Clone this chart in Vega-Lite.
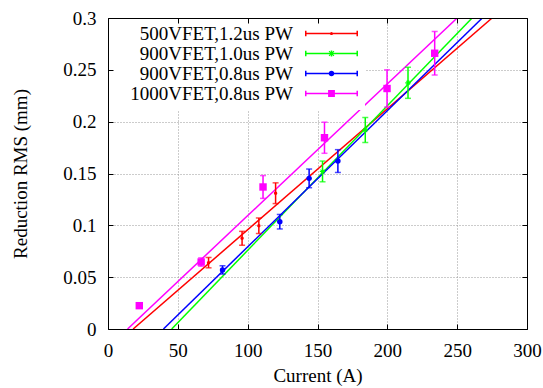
{
  "$schema": "https://vega.github.io/schema/vega-lite/v6.json",
  "width": 419,
  "height": 311,
  "autosize": "none",
  "padding": {"left": 108, "top": 18, "right": 16, "bottom": 59},
  "background": "white",
  "datasets": {
    "pts": [
      {"s": "500VFET,1.2us PW", "x": 72, "y": 0.064, "e": 0.005},
      {"s": "500VFET,1.2us PW", "x": 96, "y": 0.0875, "e": 0.0067},
      {"s": "500VFET,1.2us PW", "x": 108, "y": 0.0996, "e": 0.0075},
      {"s": "500VFET,1.2us PW", "x": 120, "y": 0.131, "e": 0.01},
      {"s": "900VFET,1.0us PW", "x": 153.6, "y": 0.152, "e": 0.01},
      {"s": "900VFET,1.0us PW", "x": 184.2, "y": 0.192, "e": 0.012},
      {"s": "900VFET,1.0us PW", "x": 214.8, "y": 0.2375, "e": 0.015},
      {"s": "900VFET,0.8us PW", "x": 82, "y": 0.057, "e": 0.004},
      {"s": "900VFET,0.8us PW", "x": 123, "y": 0.1035, "e": 0.007},
      {"s": "900VFET,0.8us PW", "x": 144, "y": 0.1453, "e": 0.009},
      {"s": "900VFET,0.8us PW", "x": 164.6, "y": 0.162, "e": 0.011},
      {"s": "1000VFET,0.8us PW", "x": 22.4, "y": 0.0225, "e": 0.002},
      {"s": "1000VFET,0.8us PW", "x": 66.7, "y": 0.0646, "e": 0.004},
      {"s": "1000VFET,0.8us PW", "x": 111, "y": 0.137, "e": 0.011},
      {"s": "1000VFET,0.8us PW", "x": 155, "y": 0.1845, "e": 0.015},
      {"s": "1000VFET,0.8us PW", "x": 199.8, "y": 0.232, "e": 0.018},
      {"s": "1000VFET,0.8us PW", "x": 233.9, "y": 0.266, "e": 0.021}
    ],
    "fits": [
      {"s": "500VFET,1.2us PW", "x": 18, "y": 0},
      {"s": "500VFET,1.2us PW", "x": 275, "y": 0.3},
      {"s": "900VFET,1.0us PW", "x": 45.6, "y": 0},
      {"s": "900VFET,1.0us PW", "x": 260.7, "y": 0.3},
      {"s": "900VFET,0.8us PW", "x": 39.7, "y": 0},
      {"s": "900VFET,0.8us PW", "x": 268, "y": 0.3},
      {"s": "1000VFET,0.8us PW", "x": 14, "y": 0},
      {"s": "1000VFET,0.8us PW", "x": 250, "y": 0.3}
    ]
  },
  "layer": [
    {
      "data": {"name": "pts"},
      "transform": [{"filter": "false"}],
      "mark": {"type": "point", "filled": true, "opacity": 1},
      "encoding": {
        "x": {"field": "x", "type": "quantitative", "scale": {"domain": [0, 300], "nice": false, "zero": false},
          "axis": {"orient": "top", "values": [0, 50, 100, 150, 200, 250, 300], "grid": false, "domain": true, "domainColor": "black", "domainWidth": 1, "ticks": true, "tickSize": -5, "tickColor": "black", "tickWidth": 1, "labels": false, "title": null, "zindex": 2}},
        "y": {"field": "y", "type": "quantitative", "scale": {"domain": [0, 0.3], "nice": false, "zero": false},
          "axis": {"orient": "right", "values": [0, 0.05, 0.1, 0.15, 0.2, 0.25, 0.3], "grid": false, "domain": true, "domainColor": "black", "domainWidth": 1, "ticks": true, "tickSize": -5, "tickColor": "black", "tickWidth": 1, "labels": false, "title": null, "zindex": 2}},
        "color": {"field": "s", "type": "nominal", "scale": {"domain": ["500VFET,1.2us PW", "900VFET,1.0us PW", "900VFET,0.8us PW", "1000VFET,0.8us PW"], "range": ["#ff0000", "#00ff00", "#0000ff", "#ff00ff"]}, "legend": {"title": null}},
        "shape": {"field": "s", "type": "nominal", "scale": {"domain": ["500VFET,1.2us PW", "900VFET,1.0us PW", "900VFET,0.8us PW", "1000VFET,0.8us PW"], "range": [
          "M-2.79,-0.08H2.79V0.08H-2.79Z M-2.79,-0.3H-2.63V0.3H-2.79Z M2.63,-0.3H2.79V0.3H2.63Z M0.17,0A0.17,0.17 0 1,1 -0.17,0A0.17,0.17 0 1,1 0.17,0Z",
          "M-2.79,-0.08H2.79V0.08H-2.79Z M-2.79,-0.3H-2.63V0.3H-2.79Z M2.63,-0.3H2.79V0.3H2.63Z M-0.08,-0.32H0.08V0.32H-0.08Z M-0.3,-0.22L-0.22,-0.3L0.3,0.22L0.22,0.3Z M0.22,-0.3L0.3,-0.22L-0.22,0.3L-0.3,0.22Z",
          "M-2.79,-0.08H2.79V0.08H-2.79Z M-2.79,-0.3H-2.63V0.3H-2.79Z M2.63,-0.3H2.79V0.3H2.63Z M0.3,0A0.3,0.3 0 1,1 -0.3,0A0.3,0.3 0 1,1 0.3,0Z",
          "M-2.79,-0.08H2.79V0.08H-2.79Z M-2.79,-0.3H-2.63V0.3H-2.79Z M2.63,-0.3H2.79V0.3H2.63Z M-0.36,-0.36H0.36V0.36H-0.36Z"
        ]}, "legend": {"title": null}}
      }
    },
    {
      "data": {"name": "pts"},
      "transform": [{"filter": "false"}],
      "mark": {"type": "point", "opacity": 0},
      "encoding": {
        "x": {"field": "x", "type": "quantitative", "scale": {"domain": [0, 300], "nice": false, "zero": false},
          "axis": {"orient": "bottom", "values": [50, 100, 150, 200, 250], "grid": true, "gridColor": "#999999", "gridDash": [1, 2], "gridWidth": 1, "domain": false, "ticks": false, "labels": false, "title": null, "zindex": 0}},
        "y": {"field": "y", "type": "quantitative", "scale": {"domain": [0, 0.3], "nice": false, "zero": false},
          "axis": {"orient": "left", "values": [0.05, 0.1, 0.15, 0.2, 0.25], "grid": true, "gridColor": "#999999", "gridDash": [1, 2], "gridWidth": 1, "domain": false, "ticks": false, "labels": false, "title": null, "zindex": 0}}
      }
    },
    {
      "data": {"name": "fits"},
      "mark": {"type": "line", "strokeWidth": 1.5, "clip": true},
      "encoding": {
        "x": {"field": "x", "type": "quantitative", "scale": {"domain": [0, 300], "nice": false, "zero": false},
          "axis": {"orient": "bottom", "values": [0, 50, 100, 150, 200, 250, 300], "format": "d", "grid": false, "domain": true, "domainColor": "black", "domainWidth": 1, "ticks": true, "tickSize": -5, "tickColor": "black", "tickWidth": 1, "labelPadding": 17, "labelFlush": false, "labelOverlap": false, "title": "Current (A)", "titlePadding": 6, "zindex": 2}},
        "y": {"field": "y", "type": "quantitative", "scale": {"domain": [0, 0.3], "nice": false, "zero": false},
          "axis": {"orient": "left", "values": [0, 0.05, 0.1, 0.15, 0.2, 0.25, 0.3], "format": ".2~f", "grid": false, "domain": true, "domainColor": "black", "domainWidth": 1, "ticks": true, "tickSize": -5, "tickColor": "black", "tickWidth": 1, "labelPadding": 17, "labelOverlap": false, "title": "Reduction RMS (mm)", "titlePadding": 32, "zindex": 2}},
        "color": {"field": "s", "type": "nominal", "scale": {"domain": ["500VFET,1.2us PW", "900VFET,1.0us PW", "900VFET,0.8us PW", "1000VFET,0.8us PW"], "range": ["#ff0000", "#00ff00", "#0000ff", "#ff00ff"]}, "legend": {"title": null}}
      }
    },
    {
      "data": {"name": "pts"},
      "mark": {"type": "errorbar", "ticks": {"size": 6, "thickness": 1.5}, "thickness": 1.5},
      "encoding": {
        "x": {"field": "x", "type": "quantitative", "scale": {"domain": [0, 300], "nice": false, "zero": false}, "axis": null},
        "y": {"field": "y", "type": "quantitative", "scale": {"domain": [0, 0.3], "nice": false, "zero": false}, "axis": null},
        "yError": {"field": "e"},
        "color": {"field": "s", "type": "nominal", "scale": {"domain": ["500VFET,1.2us PW", "900VFET,1.0us PW", "900VFET,0.8us PW", "1000VFET,0.8us PW"], "range": ["#ff0000", "#00ff00", "#0000ff", "#ff00ff"]}, "legend": {"title": null}}
      }
    },
    {
      "data": {"name": "pts"},
      "transform": [{"filter": "datum.s === '500VFET,1.2us PW'"}],
      "mark": {"type": "point", "filled": true, "opacity": 1, "shape": "circle", "size": 12},
      "encoding": {
        "x": {"field": "x", "type": "quantitative", "scale": {"domain": [0, 300], "nice": false, "zero": false}, "axis": null},
        "y": {"field": "y", "type": "quantitative", "scale": {"domain": [0, 0.3], "nice": false, "zero": false}, "axis": null},
        "color": {"field": "s", "type": "nominal", "scale": {"domain": ["500VFET,1.2us PW", "900VFET,1.0us PW", "900VFET,0.8us PW", "1000VFET,0.8us PW"], "range": ["#ff0000", "#00ff00", "#0000ff", "#ff00ff"]}, "legend": {"title": null}}
      }
    },
    {
      "data": {"name": "pts"},
      "transform": [{"filter": "datum.s === '900VFET,1.0us PW'"}],
      "mark": {"type": "point", "filled": true, "opacity": 1, "size": 100, "shape": "M-0.55,-0.12H0.55V0.12H-0.55Z M-0.12,-0.55H0.12V0.55H-0.12Z M-0.45,-0.35L-0.35,-0.45L0.45,0.35L0.35,0.45Z M0.35,-0.45L0.45,-0.35L-0.35,0.45L-0.45,0.35Z"},
      "encoding": {
        "x": {"field": "x", "type": "quantitative", "scale": {"domain": [0, 300], "nice": false, "zero": false}, "axis": null},
        "y": {"field": "y", "type": "quantitative", "scale": {"domain": [0, 0.3], "nice": false, "zero": false}, "axis": null},
        "color": {"field": "s", "type": "nominal", "scale": {"domain": ["500VFET,1.2us PW", "900VFET,1.0us PW", "900VFET,0.8us PW", "1000VFET,0.8us PW"], "range": ["#ff0000", "#00ff00", "#0000ff", "#ff00ff"]}, "legend": {"title": null}}
      }
    },
    {
      "data": {"name": "pts"},
      "transform": [{"filter": "datum.s === '900VFET,0.8us PW'"}],
      "mark": {"type": "point", "filled": true, "opacity": 1, "shape": "circle", "size": 30},
      "encoding": {
        "x": {"field": "x", "type": "quantitative", "scale": {"domain": [0, 300], "nice": false, "zero": false}, "axis": null},
        "y": {"field": "y", "type": "quantitative", "scale": {"domain": [0, 0.3], "nice": false, "zero": false}, "axis": null},
        "color": {"field": "s", "type": "nominal", "scale": {"domain": ["500VFET,1.2us PW", "900VFET,1.0us PW", "900VFET,0.8us PW", "1000VFET,0.8us PW"], "range": ["#ff0000", "#00ff00", "#0000ff", "#ff00ff"]}, "legend": {"title": null}}
      }
    },
    {
      "data": {"name": "pts"},
      "transform": [{"filter": "datum.s === '1000VFET,0.8us PW'"}],
      "mark": {"type": "point", "filled": true, "opacity": 1, "shape": "square", "size": 55},
      "encoding": {
        "x": {"field": "x", "type": "quantitative", "scale": {"domain": [0, 300], "nice": false, "zero": false}, "axis": null},
        "y": {"field": "y", "type": "quantitative", "scale": {"domain": [0, 0.3], "nice": false, "zero": false}, "axis": null},
        "color": {"field": "s", "type": "nominal", "scale": {"domain": ["500VFET,1.2us PW", "900VFET,1.0us PW", "900VFET,0.8us PW", "1000VFET,0.8us PW"], "range": ["#ff0000", "#00ff00", "#0000ff", "#ff00ff"]}, "legend": {"title": null}}
      }
    }
  ],
  "resolve": {"axis": {"x": "independent", "y": "independent"}},
  "config": {
    "font": "Liberation Serif, Times New Roman, DejaVu Serif, serif",
    "view": {"stroke": null},
    "style": {
      "guide-label": {"font": "Liberation Serif, Times New Roman, DejaVu Serif, serif", "fontSize": 19, "fill": "black"},
      "guide-title": {"font": "Liberation Serif, Times New Roman, DejaVu Serif, serif", "fontSize": 19, "fontWeight": "normal", "fill": "black"}
    },
    "axis": {
      "labelFont": "Liberation Serif, Times New Roman, DejaVu Serif, serif",
      "labelFontSize": 19,
      "labelColor": "black",
      "titleFont": "Liberation Serif, Times New Roman, DejaVu Serif, serif",
      "titleFontSize": 19,
      "titleFontWeight": "normal",
      "titleColor": "black"
    },
    "legend": {
      "orient": "none",
      "legendX": -1,
      "legendY": 0,
      "padding": 6,
      "fillColor": "white",
      "strokeColor": null,
      "labelFont": "Liberation Serif, Times New Roman, DejaVu Serif, serif",
      "labelFontSize": 19,
      "labelColor": "black",
      "labelAlign": "right",
      "labelBaseline": "middle",
      "labelOffset": -48,
      "labelLimit": 400,
      "symbolOffset": 209,
      "symbolSize": 361,
      "symbolStrokeWidth": 0,
      "rowPadding": -0.5,
      "zindex": 1
    }
  }
}
